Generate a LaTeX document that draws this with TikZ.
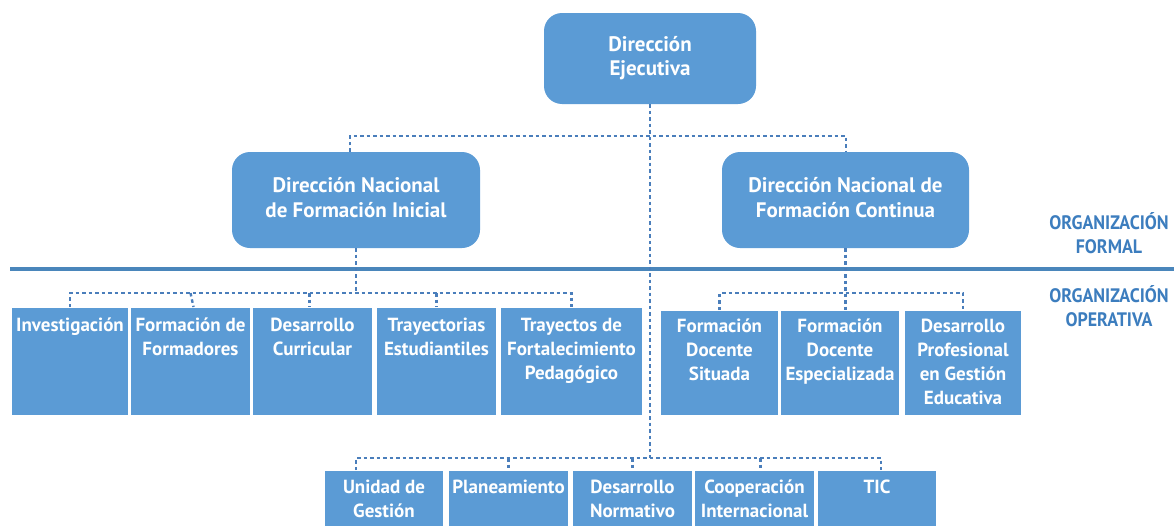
\documentclass[tikz,border=0pt]{standalone}
\usepackage{fontspec}
\setmainfont{PT Sans}
\newfontfamily\labfont{PT Sans}[FakeStretch=0.92]
\definecolor{boxblue}{HTML}{5B9BD5}
\definecolor{connblue}{HTML}{4A7EBB}
\definecolor{lineblue}{HTML}{4A86BB}
\definecolor{labblue}{HTML}{3C7DBE}
\newcommand{\toptext}[1]{\raisebox{3pt}{\begin{tabular}{@{}c@{}}#1\end{tabular}}}
\tikzset{
  topbox/.style={rectangle, rounded corners=18pt, fill=boxblue, text=white,
    font=\bfseries\fontsize{21}{24.5}\selectfont, align=center, inner sep=0pt},
  unitbox/.style={rectangle, fill=boxblue, draw=white, line width=1pt,
    inner sep=0pt, anchor=north west},
  unittext/.style={text=white, font=\bfseries\fontsize{19}{24}\selectfont,
    align=center, inner sep=0pt, anchor=north},
  conn/.style={draw=connblue, line width=2.4pt, dash pattern=on 3.5pt off 3pt},
  sepline/.style={draw=lineblue, line width=3.5pt},
  orglabel/.style={text=labblue, font=\labfont\bfseries\fontsize{19.5}{24}\selectfont,
    align=center, inner sep=0pt}
}
\begin{document}
\begin{tikzpicture}[x=1pt,y=-1pt]
\useasboundingbox (0,0) rectangle (1174,525);

% top level
\node[topbox, minimum width=212, minimum height=91] (exec) at (650,58.5) {\toptext{Dirección\\Ejecutiva}};
\node[topbox, minimum width=248, minimum height=96] (dnfi) at (356,200) {\toptext{Dirección Nacional\\de Formación Inicial}};
\node[topbox, minimum width=247, minimum height=96] (dnfc) at (845.5,200) {\toptext{Dirección Nacional de\\Formación Continua}};

% separator line
\coordinate (sepL) at (10,269);
\coordinate (sepR) at (1174,269);
\draw[sepline] (sepL) -- (sepR);

% labels
\node[orglabel] (lformal) at (1109,233) {ORGANIZACIÓN\\FORMAL};
\node[orglabel] (loper) at (1109,306) {ORGANIZACIÓN\\OPERATIVA};

% left unit row
\node[unitbox, minimum width=117, minimum height=108] (inv) at (11,307) {};
\node[unitbox, minimum width=120, minimum height=108] (ffor) at (130,307) {};
\node[unitbox, minimum width=120, minimum height=108] (dcur) at (252,307) {};
\node[unitbox, minimum width=120, minimum height=108] (tres) at (376,307) {};
\node[unitbox, minimum width=142, minimum height=108] (tfp) at (500,307) {};

% right unit row
\node[unitbox, minimum width=118, minimum height=105] (fds) at (660,310) {};
\node[unitbox, minimum width=119, minimum height=105] (fde) at (780,310) {};
\node[unitbox, minimum width=117, minimum height=105] (dpg) at (904,310) {};

% bottom unit row
\node[unitbox, minimum width=119, minimum height=56] (ug) at (324,470) {};
\node[unitbox, minimum width=120, minimum height=56] (plan) at (448,470) {};
\node[unitbox, minimum width=120, minimum height=56] (dnor) at (572,470) {};
\node[unitbox, minimum width=120, minimum height=56] (coop) at (694,470) {};
\node[unitbox, minimum width=119, minimum height=56] (tic) at (817,470) {};

% texts
\node[unittext] (invt) at ([yshift=-11pt]inv.north) {Investigación};
\node[unittext] (ffort) at ([yshift=-11pt]ffor.north) {Formación de\\Formadores};
\node[unittext] (dcurt) at ([yshift=-11pt]dcur.north) {Desarrollo\\Curricular};
\node[unittext] (trest) at ([yshift=-11pt]tres.north) {Trayectorias\\Estudiantiles};
\node[unittext] (tfpt) at ([yshift=-11pt]tfp.north) {Trayectos de\\Fortalecimiento\\Pedagógico};
\node[unittext] (fdst) at ([yshift=-9pt]fds.north) {Formación\\Docente\\Situada};
\node[unittext] (fdet) at ([yshift=-9pt]fde.north) {Formación\\Docente\\Especializada};
\node[unittext] (dpgt) at ([yshift=-9pt]dpg.north) {Desarrollo\\Profesional\\en Gestión\\Educativa};
\node[unittext] (ugt) at ([yshift=-10pt]ug.north) {Unidad de\\Gestión};
\node[unittext] (plant) at ([yshift=-10pt]plan.north) {Planeamiento};
\node[unittext] (dnort) at ([yshift=-10pt]dnor.north) {Desarrollo\\Normativo};
\node[unittext] (coopt) at ([yshift=-10pt]coop.north) {Cooperación\\Internacional};
\node[unittext] (tict) at ([yshift=-10pt]tic.north) {TIC};

% connectors: top
\coordinate (tl) at (350,136);
\coordinate (tr) at (846,136);
\coordinate (bl) at (356,458);
\coordinate (br) at (881,458);
\coordinate (bmid) at (650,458);
\draw[conn] (exec.south) -- (bmid);
\draw[conn] (dnfi.north -| tl) -- (tl) -- (tr) -- (dnfc.north -| tr);

% connectors: left row
\coordinate (lb) at (0,293);
\draw[conn] (inv.north) -- (inv.north |- lb) -- (tfp.north |- lb) -- (tfp.north);
\draw[conn] (dnfi.south) -- (dnfi.south |- lb);
\draw[conn] (ffor.north |- lb) -- ([xshift=3pt]ffor.north);
\draw[conn] ([xshift=-3pt]dcur.north |- lb) -- ([xshift=-3pt]dcur.north);
\draw[conn] (tres.north |- lb) -- (tres.north);

% connectors: right row
\coordinate (rb) at (0,293);
\draw[conn] (fds.north) -- (fds.north |- rb) -- (dpg.north |- rb) -- (dpg.north);
\draw[conn] (dnfc.south) -- (dnfc.south |- fde.north);

% connectors: bottom row
\draw[conn] (ug.north -| bl) -- (bl) -- (br) -- (tic.north -| br);
\draw[conn] (plan.north |- bl) -- (plan.north);
\draw[conn] (dnor.north |- bl) -- (dnor.north);
\draw[conn] ([xshift=6pt]coop.north |- bl) -- ([xshift=6pt]coop.north);
\end{tikzpicture}
\end{document}
